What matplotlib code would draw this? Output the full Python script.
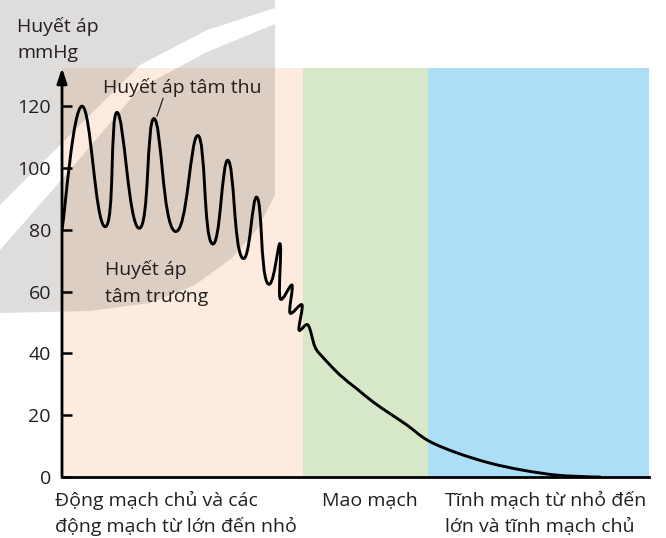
import matplotlib
matplotlib.use("Agg")
import matplotlib.pyplot as plt
from matplotlib.path import Path
from matplotlib.patches import PathPatch, Polygon

plt.rcParams['font.family'] = ['Open Sans', 'DejaVu Sans']

W, H = 666, 538
INK = '#231f20'
FS = 14

# vị trí dọc theo hệ mạch (đơn vị tùy ý) và huyết áp (mmHg) tại các đỉnh / đáy dao động
pulse_x = [0, 20, 43, 55, 77, 92, 113, 136, 150, 166, 180, 195, 205, 218,
           218, 230, 228, 240, 237, 246, 253]
pulse_y = [80, 120, 81, 118, 80.5, 116, 79.5, 110.5, 75.5, 102.5, 71, 90.5, 63, 75.5,
           57.9, 62.1, 53.1, 55.7, 47.6, 49.2, 42.1]

# đoạn giảm dần đều qua mao mạch và tĩnh mạch
tail_x = [261, 278, 295, 311, 328, 345, 366, 395, 428, 461, 495, 528, 538]
tail_y = [38.7, 33.0, 28.5, 24.3, 20.5, 16.8, 11.8, 7.8, 4.5, 2.2, 0.6, 0.05, 0]

# ranh giới các đoạn mạch
region_edges = [0, 241, 366, 587]
region_colors = ['#fdebdf', '#d7e8c8', '#acdff5']
region_labels = ['Động mạch chủ và các\nđộng mạch từ lớn đến nhỏ',
                 'Mao mạch',
                 'Tĩnh mạch từ nhỏ đến\nlớn và tĩnh mạch chủ']

y_ticks = [0, 20, 40, 60, 80, 100, 120]


def px(x, y):
    return (x / W, 1 - y / H)


fig = plt.figure(figsize=(W / 100, H / 100), dpi=100)
ax = fig.add_axes([62 / W, 61 / H, 587 / W, 409 / H])
ax.set_xlim(region_edges[0], region_edges[-1])
ax.set_ylim(0, 409 / 3.09)

for i, c in enumerate(region_colors):
    ax.axvspan(region_edges[i], region_edges[i + 1], color=c, lw=0, zorder=0.5)

# logo mờ phía sau (hai mảng xám, giữa là dải sáng cong)
wm_upper = [(0, 0), (275, 0), (275, 8), (207, 30), (140, 65), (70, 135), (0, 205)]
wm_lower = [(0, 250), (70, 170), (140, 88), (207, 52), (275, 24), (275, 195),
            (258, 228), (232, 258), (195, 285), (150, 303), (90, 311), (0, 313)]
for poly in (wm_upper, wm_lower):
    ax.add_patch(Polygon([px(*p) for p in poly], closed=True, transform=fig.transFigure,
                         facecolor='#7a7470', alpha=0.24, lw=0, clip_on=False, zorder=1.5))

# đường huyết áp: spline Catmull-Rom qua các điểm đọc được
pts = list(zip(pulse_x + tail_x, pulse_y + tail_y))
n = len(pts)
# các nhịp lớn được vẽ tròn hơn, đáy rộng hơn đỉnh
tension = []
for i in range(n):
    if 1 <= i <= 12:
        tension.append(1.25 if i % 2 else 1.7)
    else:
        tension.append(1.0)


def tangent(i):
    a = pts[max(i - 1, 0)]
    b = pts[min(i + 1, n - 1)]
    k = tension[i] / 6
    return ((b[0] - a[0]) * k, (b[1] - a[1]) * k)


verts = [pts[0]]
codes = [Path.MOVETO]
for i in range(n - 1):
    p1, p2 = pts[i], pts[i + 1]
    t1, t2 = tangent(i), tangent(i + 1)
    verts += [(p1[0] + t1[0], p1[1] + t1[1]), (p2[0] - t2[0], p2[1] - t2[1]), p2]
    codes += [Path.CURVE4] * 3
ax.add_patch(PathPatch(Path(verts, codes), facecolor='none', edgecolor='black',
                       lw=2.1, zorder=3, capstyle='round', joinstyle='round'))

# trục
for s in ['top', 'right', 'left']:
    ax.spines[s].set_visible(False)
ax.spines['bottom'].set_linewidth(2.0)
ax.spines['bottom'].set_color('black')
ax.annotate('', xy=(0, 1.0), xytext=(0, 0), xycoords='axes fraction',
            arrowprops=dict(arrowstyle='-|>,head_length=0.9,head_width=0.3',
                            lw=2.0, color='black', shrinkA=0, shrinkB=0),
            annotation_clip=False, zorder=4)

ax.set_xticks([])
ax.set_yticks(y_ticks)
ax.set_yticklabels([str(t) for t in y_ticks])
ax.tick_params(axis='y', direction='in', length=7, width=1.8, pad=8,
               labelsize=FS, labelcolor=INK, color='black')

# nhãn
fig.text(*px(17, 32), 'Huyết áp', fontsize=FS, color=INK, va='baseline')
fig.text(*px(17, 58), 'mmHg', fontsize=FS, color=INK, va='baseline')
fig.text(*px(103, 93), 'Huyết áp tâm thu', fontsize=FS, color=INK, va='baseline')
ax.plot([95, 101], [116.8, 122.5], color=INK, lw=0.9, zorder=3)
fig.text(*px(105, 275), 'Huyết áp', fontsize=FS, color=INK, va='baseline')
fig.text(*px(105, 302), 'tâm trương', fontsize=FS, color=INK, va='baseline')

label_pos = [(55, 506), (322, 506), (445, 506)]
for (lx, ly), lab in zip(label_pos, region_labels):
    lines = lab.split('\n')
    for k, line in enumerate(lines):
        fig.text(*px(lx, ly + 26 * k), line, fontsize=FS, color=INK, va='baseline')

fig.savefig('out.png', dpi=100)
